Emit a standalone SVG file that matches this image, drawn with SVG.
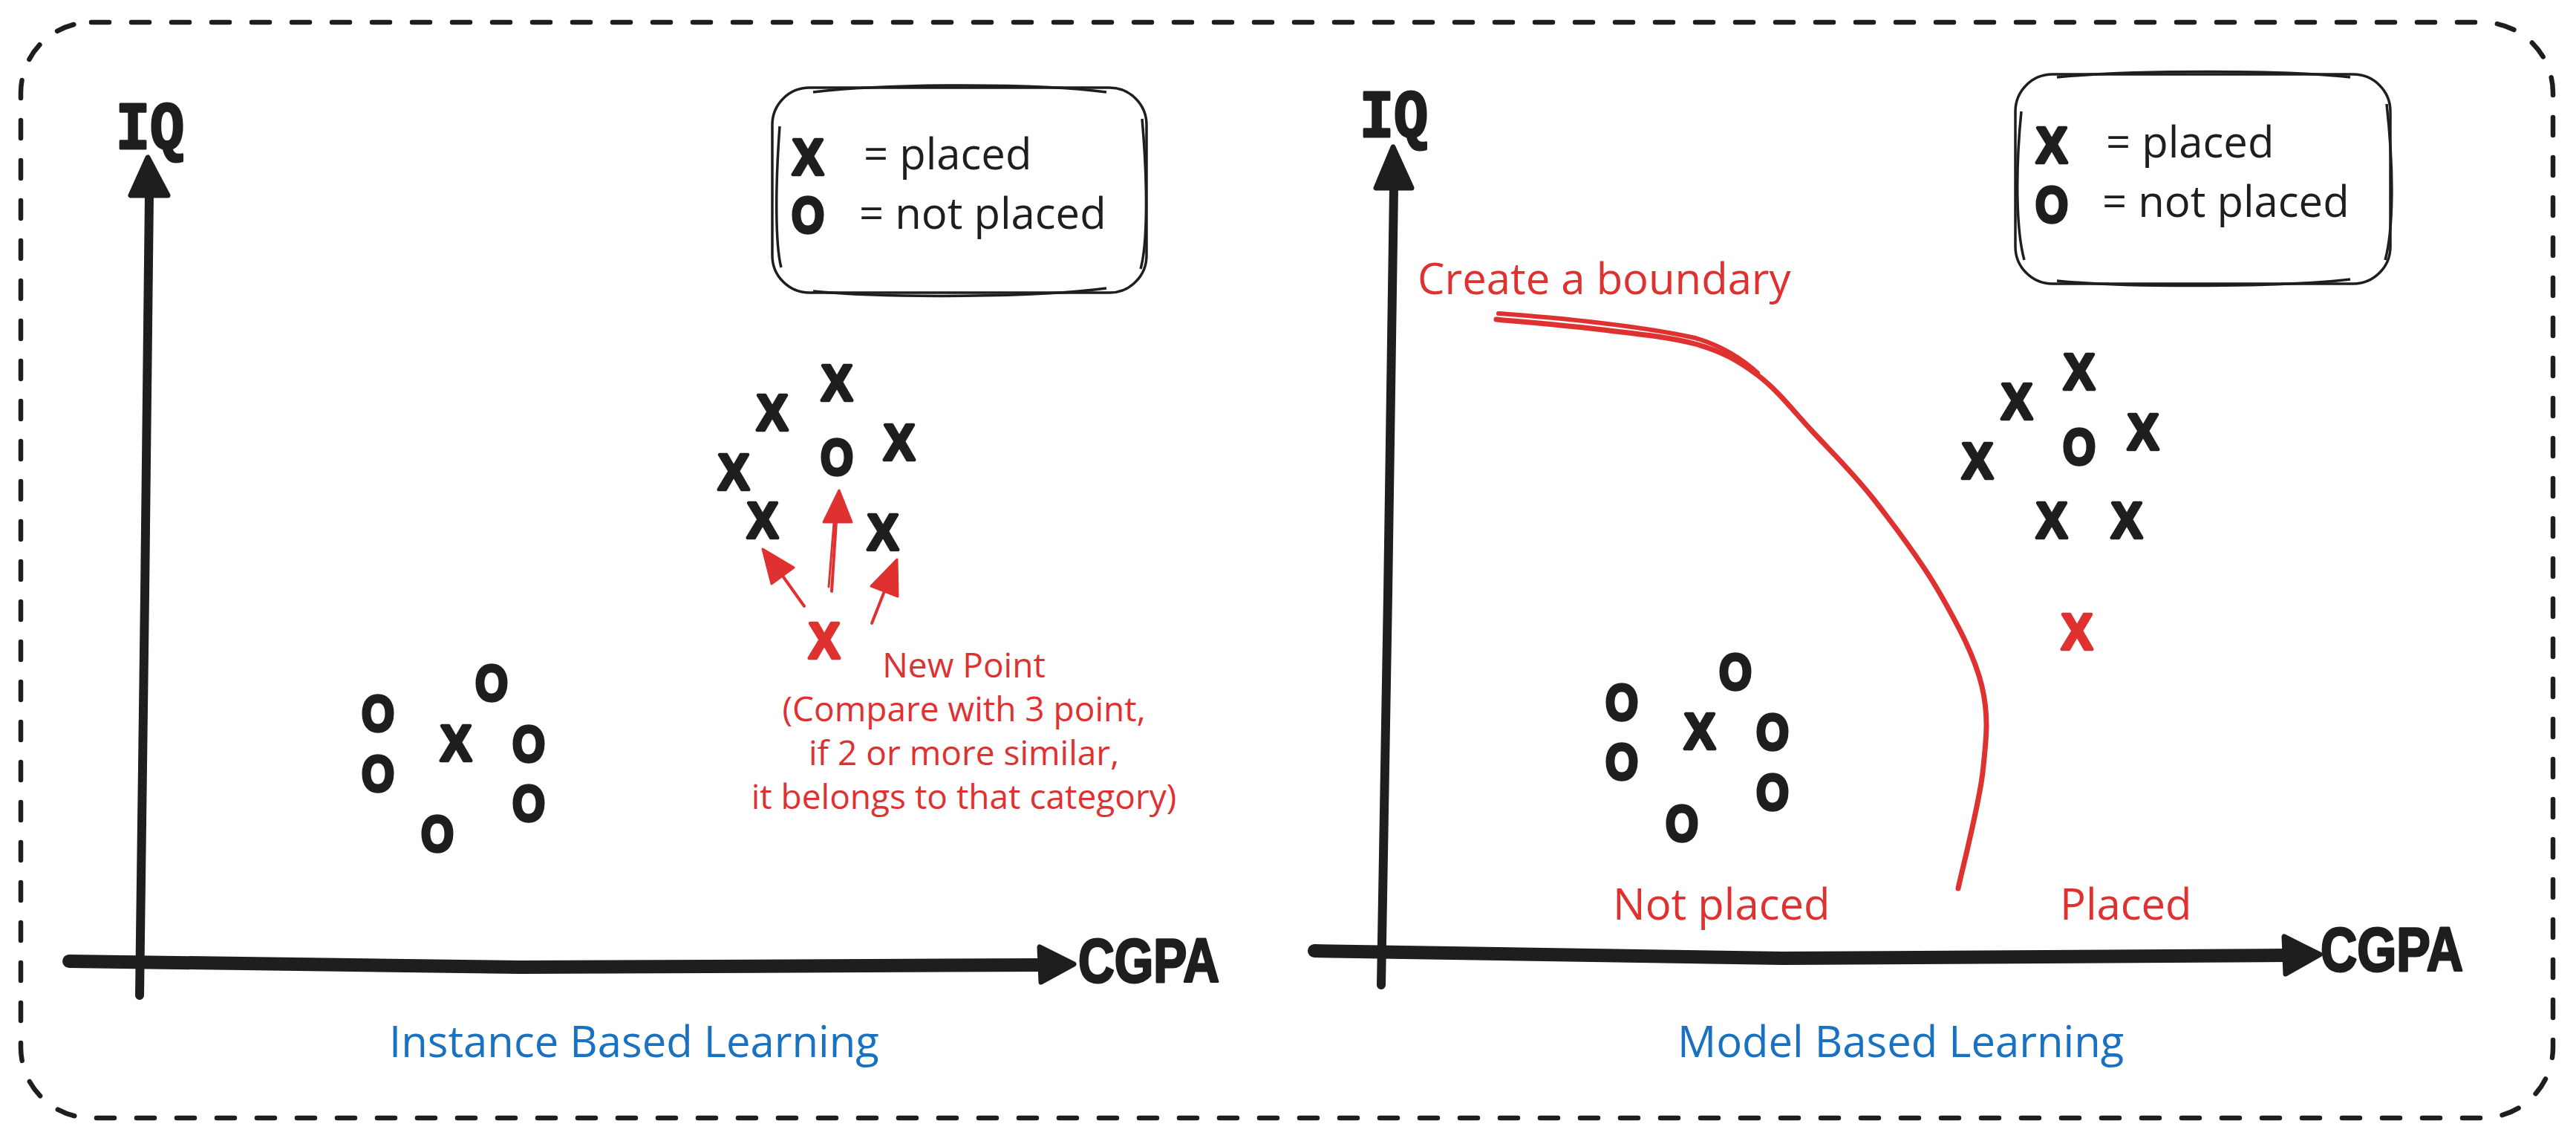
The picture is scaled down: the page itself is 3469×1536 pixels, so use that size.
<svg xmlns="http://www.w3.org/2000/svg" width="3469" height="1536" viewBox="0 0 3469 1536">
<style>
.bg{fill:#ffffff}
.frame{fill:none;stroke:#1e1e1e;stroke-width:6.5;stroke-dasharray:24 30;stroke-linecap:round}
.ax{fill:none;stroke:#1e1e1e;stroke-linecap:round;stroke-linejoin:round}
.head{fill:#1e1e1e;stroke:#1e1e1e;stroke-width:7;stroke-linejoin:round}
.box{fill:none;stroke:#1e1e1e;stroke-width:3.5}
.mk{font-family:"Liberation Sans",Arial,sans-serif;font-weight:bold;font-size:68px;fill:#1e1e1e;stroke:#1e1e1e;stroke-width:4.5;stroke-linejoin:round;text-anchor:middle}
.mk.red{fill:#e03131;stroke:#e03131}
.lbl{font-family:"Open Sans","Noto Sans",sans-serif;font-size:58px;fill:#1e1e1e}
.red{fill:#e03131}
.blue{fill:#1971c2}
.note{font-family:"Open Sans","Noto Sans",sans-serif;font-size:46px;fill:#e03131;text-anchor:middle}
.axl{font-family:"Liberation Sans",Arial,sans-serif;font-weight:bold;font-size:84px;fill:#1e1e1e;stroke:#1e1e1e;stroke-width:3;stroke-linejoin:round}
.iq{font-family:"Liberation Mono","Courier New",monospace;font-weight:bold;font-size:90px;fill:#1e1e1e;stroke:#1e1e1e;stroke-width:3;stroke-linejoin:round}
.rl{fill:none;stroke:#e03131;stroke-linecap:round;stroke-linejoin:round}
.rh{fill:#e03131;stroke:#e03131;stroke-width:3;stroke-linejoin:round}
</style>
<rect class="bg" x="0" y="0" width="3469" height="1536"/>
<g id="frame">
<rect class="frame" x="28" y="30" width="3410" height="1475" rx="95" ry="95"/>
</g>

<g id="connectors">
<!-- left axes -->
<path class="ax" stroke-width="12" d="M201,262 L195,800 L188,1340"/>
<path class="head" d="M199,212 L176,263 L226,263 Z"/>
<path class="ax" stroke-width="18" d="M93,1294 L700,1302 L1402,1299"/>
<path class="head" d="M1446,1298 L1400,1275 L1402,1322 Z"/>
<!-- right axes -->
<path class="ax" stroke-width="12" d="M1877,253 L1869,800 L1860,1326"/>
<path class="head" d="M1876,198 L1853,253 L1901,253 Z"/>
<path class="ax" stroke-width="18" d="M1770,1280 L2400,1290 L3077,1286"/>
<path class="head" d="M3124,1285 L3076,1261 L3078,1311 Z"/>
<!-- red arrows -->
<path class="rl" stroke-width="4" d="M1083,816 L1053,774"/>
<path class="rh" d="M1027,739 L1069,764 L1039,786 Z"/>
<path class="rl" stroke-width="4" d="M1120,796 L1126,702"/>
<path class="rl" stroke-width="3" d="M1116,790 L1123,704"/>
<path class="rh" d="M1130,660 L1109,703 L1147,703 Z"/>
<path class="rl" stroke-width="4" d="M1174,839 L1191,796"/>
<path class="rh" d="M1208,753 L1209,803 L1173,789 Z"/>
<!-- boundary curve -->
<path class="rl" stroke-width="7" d="M2015,430 C2037.5,432.2 2105,437.5 2150,443 C2195,448.5 2247,453 2283,463 C2319,473 2341,485.5 2367,505 C2393,524.5 2414,552 2440,580 C2466,608 2495,636 2524,673 C2553,710 2589,758 2613,800 C2637,842 2659.5,884 2669,924 C2678.5,964 2675,995 2670,1040 C2664.7,1085 2642.5,1170 2637,1196"/>
<path class="rl" stroke-width="6" d="M2018,422 C2100,428 2200,437 2283,455 C2320,466 2345,482 2367,502"/>
</g>

<g id="axis-labels">
<text class="iq" x="156" y="200" textLength="92" lengthAdjust="spacingAndGlyphs">IQ</text>
<text class="axl" x="1452" y="1322" textLength="190" lengthAdjust="spacingAndGlyphs">CGPA</text>
<text class="iq" x="1831" y="184" textLength="92" lengthAdjust="spacingAndGlyphs">IQ</text>
<text class="axl" x="3125" y="1307" textLength="192" lengthAdjust="spacingAndGlyphs">CGPA</text>
</g>

<g id="legend-left">
<rect class="box" x="1040" y="118" width="504" height="276" rx="50" ry="50"/>
<path class="box" d="M1095,124 C1200,112 1400,112 1490,124 M1050,170 C1044,250 1044,330 1052,360 M1095,392 C1200,402 1400,400 1490,388 M1538,160 C1546,250 1545,330 1536,362"/>
<text class="mk" x="1088" y="235" textLength="42" lengthAdjust="spacingAndGlyphs">X</text>
<text class="mk" x="1088" y="313" textLength="44" lengthAdjust="spacingAndGlyphs">O</text>
<text class="lbl" x="1163" y="228">= placed</text>
<text class="lbl" x="1157" y="308">= not placed</text>
</g>

<g id="legend-right">
<rect class="box" x="2714" y="100" width="505" height="282" rx="50" ry="50"/>
<path class="box" d="M2770,104 C2870,94 3080,94 3165,104 M2722,150 C2714,230 2715,310 2726,350 M2770,378 C2870,388 3080,386 3165,376 M3214,140 C3224,230 3223,310 3212,350"/>
<text class="mk" x="2763" y="219" textLength="42" lengthAdjust="spacingAndGlyphs">X</text>
<text class="mk" x="2763" y="299" textLength="44" lengthAdjust="spacingAndGlyphs">O</text>
<text class="lbl" x="2836" y="212">= placed</text>
<text class="lbl" x="2831" y="292">= not placed</text>
</g>

<g id="points-left-placed">
<text class="mk" x="1127" y="539" textLength="42" lengthAdjust="spacingAndGlyphs">X</text>
<text class="mk" x="1040" y="579" textLength="42" lengthAdjust="spacingAndGlyphs">X</text>
<text class="mk" x="1127" y="639" textLength="44" lengthAdjust="spacingAndGlyphs">O</text>
<text class="mk" x="1211" y="619" textLength="42" lengthAdjust="spacingAndGlyphs">X</text>
<text class="mk" x="988" y="659" textLength="42" lengthAdjust="spacingAndGlyphs">X</text>
<text class="mk" x="1027" y="724" textLength="42" lengthAdjust="spacingAndGlyphs">X</text>
<text class="mk" x="1189" y="740" textLength="42" lengthAdjust="spacingAndGlyphs">X</text>
</g>

<g id="new-point">
<text class="mk red" x="1110" y="886" textLength="42" lengthAdjust="spacingAndGlyphs">X</text>
<text class="note" x="1298" y="912">New Point</text>
<text class="note" x="1298" y="971">(Compare with 3 point,</text>
<text class="note" x="1298" y="1030">if 2 or more similar,</text>
<text class="note" x="1298" y="1089">it belongs to that category)</text>
</g>

<g id="points-left-notplaced">
<text class="mk" x="662" y="943" textLength="44" lengthAdjust="spacingAndGlyphs">O</text>
<text class="mk" x="509" y="984" textLength="44" lengthAdjust="spacingAndGlyphs">O</text>
<text class="mk" x="614" y="1024" textLength="42" lengthAdjust="spacingAndGlyphs">X</text>
<text class="mk" x="712" y="1025" textLength="44" lengthAdjust="spacingAndGlyphs">O</text>
<text class="mk" x="509" y="1065" textLength="44" lengthAdjust="spacingAndGlyphs">O</text>
<text class="mk" x="712" y="1105" textLength="44" lengthAdjust="spacingAndGlyphs">O</text>
<text class="mk" x="589" y="1146" textLength="44" lengthAdjust="spacingAndGlyphs">O</text>
</g>

<g id="points-right-placed">
<text class="mk" x="2800" y="524" textLength="42" lengthAdjust="spacingAndGlyphs">X</text>
<text class="mk" x="2716" y="564" textLength="42" lengthAdjust="spacingAndGlyphs">X</text>
<text class="mk" x="2800" y="625" textLength="44" lengthAdjust="spacingAndGlyphs">O</text>
<text class="mk" x="2886" y="605" textLength="42" lengthAdjust="spacingAndGlyphs">X</text>
<text class="mk" x="2663" y="644" textLength="42" lengthAdjust="spacingAndGlyphs">X</text>
<text class="mk" x="2763" y="724" textLength="42" lengthAdjust="spacingAndGlyphs">X</text>
<text class="mk" x="2864" y="724" textLength="42" lengthAdjust="spacingAndGlyphs">X</text>
<text class="mk red" x="2797" y="874" textLength="42" lengthAdjust="spacingAndGlyphs">X</text>
</g>

<g id="points-right-notplaced">
<text class="mk" x="2337" y="928" textLength="44" lengthAdjust="spacingAndGlyphs">O</text>
<text class="mk" x="2184" y="969" textLength="44" lengthAdjust="spacingAndGlyphs">O</text>
<text class="mk" x="2289" y="1008" textLength="42" lengthAdjust="spacingAndGlyphs">X</text>
<text class="mk" x="2387" y="1009" textLength="44" lengthAdjust="spacingAndGlyphs">O</text>
<text class="mk" x="2184" y="1049" textLength="44" lengthAdjust="spacingAndGlyphs">O</text>
<text class="mk" x="2387" y="1090" textLength="44" lengthAdjust="spacingAndGlyphs">O</text>
<text class="mk" x="2265" y="1132" textLength="44" lengthAdjust="spacingAndGlyphs">O</text>
</g>

<g id="labels">
<text class="lbl red" x="1909" y="396">Create a boundary</text>
<text class="lbl red" x="2172" y="1238">Not placed</text>
<text class="lbl red" x="2774" y="1238">Placed</text>
<text class="lbl blue" x="524" y="1423">Instance Based Learning</text>
<text class="lbl blue" x="2259" y="1423">Model Based Learning</text>
</g>
</svg>
